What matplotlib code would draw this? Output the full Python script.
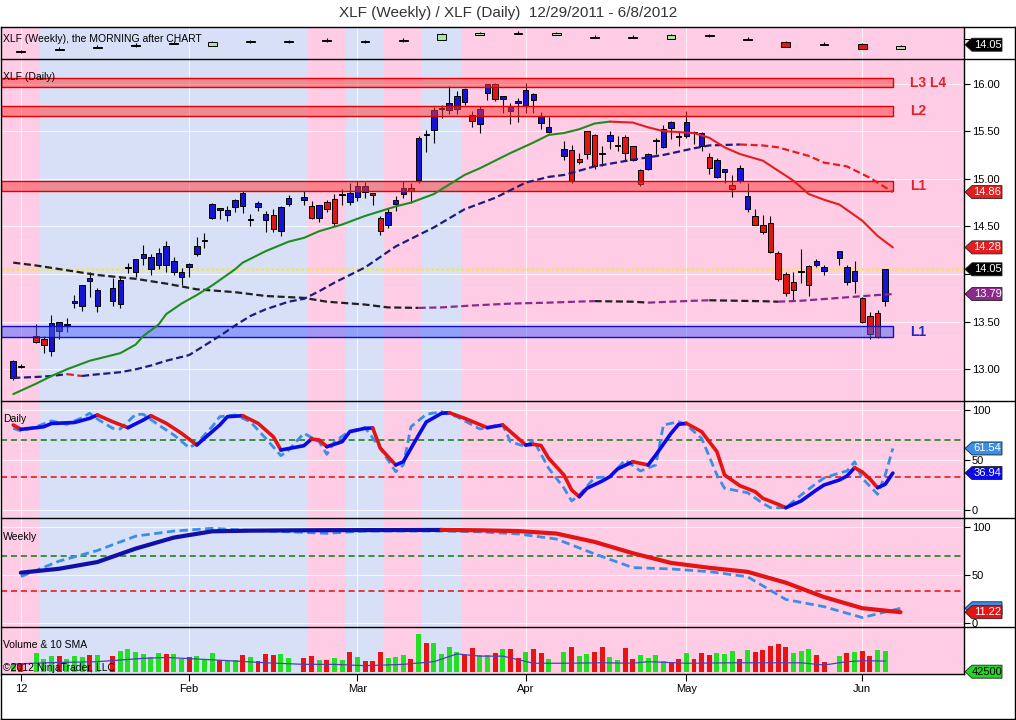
import numpy as np
import pandas as pd
import matplotlib
matplotlib.use("Agg")
import matplotlib.pyplot as plt
from matplotlib.lines import Line2D
from matplotlib.patches import Polygon, Rectangle

plt.rcParams['font.family'] = ['Liberation Sans', 'DejaVu Sans']

# ------------------------------------------------------------------ data
title = "XLF (Weekly) / XLF (Daily)  12/29/2011 - 6/8/2012"
range_start, range_end = "2011-12-29", "2012-06-08"
last_bar = "2012-06-06"
holidays = ["2012-01-02", "2012-01-16", "2012-02-20", "2012-04-06", "2012-05-28"]

opens = [12.91, 13.04, 13.35, 13.32, 13.19, 13.40, 13.47, 13.70, 13.67, 13.93, 13.67,
         13.72, 13.69, 14.06, 14.02, 14.17, 14.05, 14.10, 14.09, 14.02, 13.97, 14.07, 14.21,
         14.35, 14.59, 14.67, 14.62, 14.70, 14.71, 14.57, 14.70, 14.57, 14.62, 14.45, 14.74,
         14.78, 14.71, 14.59, 14.76, 14.79, 14.83, 14.76, 14.81, 14.86, 14.85, 14.59, 14.52,
         14.74, 14.84, 14.90, 14.99, 15.46, 15.51, 15.73, 15.72, 15.73, 15.81, 15.67, 15.58,
         15.90, 15.99, 15.84, 15.71, 15.80, 15.76, 15.83, 15.59, 15.49,
         15.24, 15.30, 15.21, 15.50, 15.46, 15.26, 15.40, 15.34, 15.44, 15.34, 15.09, 15.10,
         15.40, 15.33, 15.53, 15.44, 15.45, 15.48, 15.34, 15.23, 15.02, 15.07, 14.93, 14.98,
         14.68, 14.61, 14.52, 14.54, 14.22, 14.00, 13.92, 14.02, 14.08, 14.09, 14.03,
         14.17, 13.92, 13.93, 13.75, 13.56, 13.59, 13.72]
highs = [13.10, 13.06, 13.48, 13.35, 13.57, 13.50, 13.54, 13.78, 13.88, 14.02, 13.85,
         13.96, 13.98, 14.12, 14.16, 14.30, 14.21, 14.27, 14.35, 14.18, 14.06, 14.12, 14.39,
         14.43, 14.75, 14.69, 14.71, 14.79, 14.87, 14.63, 14.77, 14.66, 14.68, 14.71, 14.83,
         14.87, 14.77, 14.73, 14.78, 14.84, 14.89, 14.96, 14.98, 14.97, 14.85, 14.61, 14.69,
         14.82, 14.98, 14.96, 15.45, 15.51, 15.75, 15.77, 15.97, 15.92, 15.95, 15.71, 15.76,
         16.00, 16.01, 15.87, 15.80, 15.85, 16.01, 15.90, 15.70, 15.65,
         15.40, 15.35, 15.27, 15.50, 15.47, 15.34, 15.50, 15.45, 15.46, 15.34, 15.10, 15.27,
         15.43, 15.56, 15.61, 15.50, 15.71, 15.50, 15.49, 15.27, 15.22, 15.10, 15.04, 15.14,
         14.96, 14.68, 14.62, 14.61, 14.24, 14.02, 14.02, 14.26, 14.10, 14.16, 14.09,
         14.24, 14.09, 14.14, 13.76, 13.60, 13.62, 14.05]
lows = [12.89, 13.01, 13.28, 13.17, 13.14, 13.32, 13.39, 13.64, 13.61, 13.76, 13.60,
        13.67, 13.64, 14.01, 13.97, 14.10, 13.99, 14.05, 14.02, 13.99, 13.88, 13.97, 14.19,
        14.27, 14.58, 14.58, 14.56, 14.65, 14.64, 14.50, 14.66, 14.44, 14.44, 14.40, 14.71,
        14.72, 14.58, 14.55, 14.65, 14.50, 14.72, 14.72, 14.77, 14.80, 14.73, 14.41, 14.48,
        14.66, 14.80, 14.75, 14.96, 15.28, 15.38, 15.64, 15.68, 15.68, 15.77, 15.54, 15.48,
        15.83, 15.82, 15.69, 15.57, 15.60, 15.69, 15.69, 15.52, 15.48,
        15.20, 14.96, 15.15, 15.21, 15.10, 15.13, 15.31, 15.29, 15.19, 15.19, 14.92, 15.09,
        15.26, 15.32, 15.42, 15.34, 15.43, 15.36, 15.29, 15.05, 15.01, 14.96, 14.81, 14.96,
        14.65, 14.51, 14.42, 14.22, 13.93, 13.77, 13.72, 13.91, 13.77, 14.07, 13.99,
        14.10, 13.89, 13.80, 13.49, 13.32, 13.33, 13.67]
closes = [13.09, 13.02, 13.29, 13.26, 13.49, 13.50, 13.48, 13.72, 13.88, 13.96, 13.83,
          13.85, 13.94, 14.07, 14.16, 14.21, 14.18, 14.22, 14.29, 14.14, 14.02, 14.11, 14.29,
          14.36, 14.74, 14.69, 14.67, 14.78, 14.85, 14.58, 14.75, 14.63, 14.47, 14.70, 14.80,
          14.81, 14.59, 14.73, 14.68, 14.54, 14.84, 14.85, 14.92, 14.92, 14.83, 14.45, 14.65,
          14.78, 14.90, 14.87, 15.43, 15.47, 15.72, 15.74, 15.80, 15.87, 15.94, 15.61, 15.73,
          15.99, 15.84, 15.87, 15.76, 15.82, 15.93, 15.89, 15.66, 15.54,
          15.31, 14.98, 15.18, 15.26, 15.13, 15.27, 15.46, 15.35, 15.27, 15.20, 14.94, 15.26,
          15.41, 15.52, 15.60, 15.45, 15.60, 15.49, 15.48, 15.11, 15.20, 15.10, 14.89, 15.11,
          14.82, 14.52, 14.44, 14.23, 13.95, 13.80, 13.83, 14.03, 13.89, 14.14, 14.07,
          14.24, 14.07, 14.03, 13.50, 13.37, 13.34, 14.05]
volume_m = [40, 38, 82, 57, 72, 72, 57, 72, 68, 76, 76,
            72, 94, 102, 90, 81, 64, 86, 81, 81, 57, 64, 70,
            57, 86, 52, 46, 52, 76, 68, 50, 81, 76, 81, 62,
            62, 72, 52, 52, 62, 52, 90, 68, 50, 50, 90, 62,
            68, 76, 57, 170, 128, 128, 81, 112, 90, 76, 108, 76,
            76, 86, 100, 100, 63, 88, 102, 84, 57,
            88, 112, 70, 80, 88, 112, 66, 52, 106, 57, 75, 62,
            75, 48, 42, 57, 86, 57, 84, 75, 84, 80, 93, 57,
            98, 88, 98, 116, 124, 112, 84, 93, 102, 75, 44,
            70, 84, 88, 93, 70, 98, 93]
volume_up = [1, 0, 1, 1, 1, 0, 1, 1, 1, 0, 1,
             0, 1, 1, 1, 1, 1, 1, 0, 1, 1, 0, 1,
             1, 1, 0, 1, 1, 0, 1, 0, 0, 0, 1, 1,
             0, 0, 1, 0, 1, 1, 0, 1, 0, 0, 0, 1,
             1, 1, 0, 1, 0, 1, 1, 1, 1, 0, 0, 1,
             1, 0, 1, 0, 0, 1, 0, 0, 1,
             1, 0, 1, 1, 0, 0, 1, 1, 0, 0, 1, 1,
             1, 1, 0, 0, 1, 0, 0, 0, 1, 1, 1, 0,
             1, 0, 0, 0, 0, 0, 1, 1, 1, 0, 0,
             1, 0, 1, 0, 0, 1, 1]

# 10-period volume SMA as drawn (bar offset from 12/29/2011, value in M)
vol_sma_day = [0, 4, 11, 17, 20, 24, 29, 33, 38, 42, 46, 51, 55, 58, 61, 64, 68, 72, 77, 81,
               83, 88, 94, 103, 106, 109, 111, 114]
vol_sma_val = [34, 40, 45, 60, 64, 57, 48, 40, 33, 33, 27, 33, 45, 80, 70, 70, 38, 38, 40, 38,
               45, 38, 40, 40, 30, 45, 49, 48]

# moving averages on the daily chart (bar offset, value)
ma_fast_day = [0, 3, 5, 7, 10, 11, 14, 16, 17, 19, 20, 22, 24, 26, 29, 30, 33, 36, 38, 40, 43,
               46, 50, 52, 55, 57, 59, 61, 63, 65, 68, 70, 72, 74, 76, 78, 81, 83, 85, 89, 91,
               93, 95, 98, 102, 104, 106, 108, 111, 113, 115]
ma_fast_val = [12.74, 12.85, 12.93, 13.00, 13.09, 13.11, 13.17, 13.26, 13.35, 13.47, 13.58,
               13.69, 13.78, 13.88, 14.05, 14.12, 14.24, 14.34, 14.38, 14.45, 14.52, 14.61,
               14.71, 14.75, 14.84, 14.94, 15.04, 15.11, 15.19, 15.27, 15.38, 15.46, 15.48,
               15.52, 15.58, 15.60, 15.59, 15.54, 15.50, 15.48, 15.43, 15.33, 15.26, 15.19,
               14.98, 14.84, 14.78, 14.73, 14.56, 14.40, 14.28]
ma_mid_day = [0, 3, 5, 7, 9, 10, 14, 16, 18, 20, 23, 25, 27, 29, 31, 33, 36, 38, 40, 42, 46,
              50, 55, 59, 63, 65, 67, 70, 72, 76, 81, 85, 89, 91, 95, 98, 100, 104, 106, 109,
              112, 115]
ma_mid_val = [12.91, 12.92, 12.93, 12.95, 12.93, 12.94, 12.97, 13.00, 13.04, 13.09, 13.15,
              13.25, 13.35, 13.46, 13.56, 13.63, 13.71, 13.74, 13.82, 13.91, 14.07, 14.29,
              14.49, 14.68, 14.80, 14.88, 14.96, 15.02, 15.04, 15.13, 15.20, 15.25, 15.32,
              15.35, 15.36, 15.35, 15.33, 15.24, 15.17, 15.13, 15.01, 14.86]
ma_slow_day = [0, 3, 7, 11, 16, 20, 24, 29, 33, 38, 41, 46, 49, 53, 56, 60, 65, 70, 75, 76,
               81, 83, 89, 91, 98, 100, 103, 108, 113, 115]
ma_slow_val = [14.12, 14.09, 14.04, 13.99, 13.95, 13.90, 13.84, 13.81, 13.77, 13.75, 13.71,
               13.68, 13.65, 13.645, 13.65, 13.67, 13.69, 13.70, 13.714, 13.716, 13.71, 13.70,
               13.72, 13.725, 13.715, 13.71, 13.72, 13.75, 13.78, 13.79]

# support / resistance zones
zone_low = [15.96, 15.66, 14.87, 13.34]
zone_high = [16.06, 15.76, 14.98, 13.45]
zone_label = ["L3 L4", "L2", "L1", "L1"]
zone_kind = ["res", "res", "res", "sup"]

# weekly-trend background regimes
regime_start = ["2011-12-29", "2012-01-04", "2012-02-22", "2012-02-29", "2012-03-07",
                "2012-03-14", "2012-03-21"]
regime_up = [0, 1, 0, 1, 0, 1, 0]

# daily oscillator
dosc_day = [0, 1, 3, 4, 5, 8, 10, 11, 13, 15, 17, 18, 20, 22, 24, 25, 27, 28, 30, 32, 34, 35,
            38, 39, 40, 41, 43, 44, 46, 47, 48, 50, 51, 53, 54, 56, 57, 59, 62, 64, 67, 68,
            69, 70, 72, 73, 74, 75, 77, 78, 79, 81, 83, 84, 86, 87, 88, 90, 92, 93, 95, 97,
            98, 100, 101, 103, 105, 106, 108, 109, 110, 111, 112, 113, 114, 115]
dosc_val = [85, 80.7, 82.3, 83.3, 86.5, 87.5, 91.7, 95, 88.3, 82.3, 90, 94.3, 86.7, 76.7, 65,
            71.7, 85, 93.3, 94.3, 86.7, 73.3, 60, 64.3, 71, 70, 63.3, 68.3, 78.3, 81.7, 82,
            61.7, 45, 48.3, 75, 88, 96.7, 97.3, 91.7, 82.3, 85, 65, 65.7, 64.5, 51.7, 35, 20,
            13.3, 21.7, 29, 33.3, 41, 48.3, 45, 55, 76.7, 85.7, 86.7, 78.3, 58.3, 35, 24.3,
            18.3, 11.7, 5.7, 2.3, 9, 20, 25, 30, 34, 42.3, 38, 31, 22.3, 25.7, 36.94]
dsig_day = [0, 1, 3, 5, 7, 9, 10, 11, 13, 14, 16, 17, 19, 21, 23, 24, 26, 27, 29, 31, 33, 35,
            36, 38, 40, 41, 42, 44, 46, 48, 50, 51, 52, 54, 56, 58, 61, 63, 64, 65, 67, 68,
            70, 72, 73, 74, 76, 78, 80, 82, 84, 85, 87, 88, 90, 92, 93, 96, 98, 99, 101, 103,
            105, 106, 108, 109, 110, 111, 113, 114, 115]
dsig_val = [81.7, 79, 83.3, 89, 85.7, 92.3, 96.7, 91, 81.7, 81, 95.7, 95.7, 85, 75, 62.3,
            66.7, 83.3, 93.3, 95, 88.3, 71.7, 54.3, 60, 76.7, 68.3, 55.7, 68.3, 79, 82.3,
            61.7, 38.3, 45, 83.3, 95.7, 98.3, 93.3, 81, 84.3, 85, 68.3, 63.3, 70, 41.7, 22,
            9, 15, 32.3, 33.3, 50, 39, 45, 85, 88.3, 85, 71.7, 35, 21.7, 17.3, 6.7, 2.3, 2.3,
            15, 26.7, 32, 37, 39, 48.3, 31.7, 15.7, 35, 61.54]
osc_levels = [70, 33.3]

# weekly oscillator (one value per week, on Fridays)
wosc_val = [52.4, 56.5, 63.5, 77.5, 89, 95.5, 96.2, 96.5, 96.7, 96.8, 96.9, 97.0, 96.6, 95.8,
            93.2, 84.5, 72.7, 62.6, 57.5, 53.3, 42, 27, 15.4, 11.22]
wsig_val = [48.3, 64.5, 75.5, 90.5, 95.8, 98.6, 96.5, 95.0, 93.4, 95.8, 95.8, 95.8, 95.0,
            92.8, 87.5, 72.0, 57.7, 56.3, 53.5, 48.2, 24.5, 17, 5.6, 15.3]

# weekly candles shown in the top strip
wk_open = [12.80, 13.20, 13.50, 13.78, 14.18, 13.84, 14.45, 14.45, 14.61, 14.45, 14.61, 14.83,
           15.72, 15.83, 15.72, 15.17, 15.17, 14.99, 15.64, 14.89, 14.55, 14.07, 14.12, 13.39]
wk_close = [12.98, 13.38, 13.74, 14.00, 14.36, 14.55, 14.63, 14.63, 14.79, 14.63, 14.79, 15.77,
            15.90, 16.01, 15.90, 15.35, 15.35, 15.65, 15.46, 15.07, 13.72, 14.25, 13.34, 13.84]
wk_high = [13.25, 13.65, 14.05, 14.30, 14.60, 14.70, 14.90, 14.90, 15.10, 14.90, 15.10, 15.95,
           16.20, 16.30, 16.20, 15.60, 15.60, 15.85, 15.80, 15.30, 14.70, 14.45, 14.30, 13.95]
wk_low = [12.75, 13.15, 13.45, 13.72, 14.12, 13.78, 14.40, 14.40, 14.50, 14.40, 14.50, 14.78,
          15.65, 15.78, 15.65, 15.10, 15.10, 14.93, 15.40, 14.80, 13.65, 14.00, 13.28, 13.34]

tick_dates = ["2011-12-30", "2012-01-31", "2012-03-01", "2012-04-02", "2012-05-01", "2012-06-01"]
tick_labels = ["12", "Feb", "Mar", "Apr", "May", "Jun"]
volume_tag = "42500"

# ------------------------------------------------------------------ positions
slots = pd.bdate_range(range_start, range_end)
slot_of = {d: i for i, d in enumerate(slots)}
trade_days = [d for d in pd.bdate_range(range_start, last_bar) if d not in pd.to_datetime(holidays)]
xpos = np.array([slot_of[d] for d in trade_days], float)
fridays = np.array([i for i, d in enumerate(slots) if d.weekday() == 4], float)
tick_pos = [slot_of[pd.Timestamp(d)] for d in tick_dates]

O, Hh, L, C = map(np.array, (opens, highs, lows, closes))

# ------------------------------------------------------------------ figure / layout
W, H = 1016, 720
fig = plt.figure(figsize=(W / 100, H / 100), dpi=100, facecolor="white")
PX_L, PX_R, PX_FR = 1, 964, 1015
YS = [27, 59.3, 400.5, 518, 627, 674]
XL = (-1.6, 124.3)

PINK = "#FFCCE6"
BLUEBG = "#D7E0F6"


def add_panel(y0, y1):
    ax = fig.add_axes([PX_L / W, 1 - y1 / H, (PX_R - PX_L) / W, (y1 - y0) / H])
    ax.set_xlim(*XL)
    for s in ax.spines.values():
        s.set_visible(False)
    starts = [slot_of[pd.Timestamp(d)] - 0.5 for d in regime_start]
    starts[0] = XL[0]
    ends = starts[1:] + [XL[1]]
    for a, b, u in zip(starts, ends, regime_up):
        ax.axvspan(a, b, color=BLUEBG if u else PINK, lw=0, zorder=0)
    ax.set_xticks(tick_pos)
    ax.tick_params(axis="x", length=0, labelbottom=False)
    ax.yaxis.tick_right()
    ax.tick_params(axis="y", direction="out", length=4, width=0.8, pad=1.5,
                   labelsize=8, colors="black")
    ax.set_axisbelow(True)
    ax.grid(True, color="white", lw=0.8, alpha=0.75)
    return ax


ax_w = add_panel(YS[0], YS[1])
ax_m = add_panel(YS[1], YS[2])
ax_d = add_panel(YS[2], YS[3])
ax_o = add_panel(YS[3], YS[4])
ax_v = add_panel(YS[4], YS[5])


def slope_line(ax, xs, ys, up_c, dn_c, **kw):
    xs = np.asarray(xs, float)
    ys = np.asarray(ys, float)
    d = np.diff(ys)
    sgn = np.where(d >= 0, 1, -1)
    start = 0
    for i in range(1, len(sgn) + 1):
        if i == len(sgn) or sgn[i] != sgn[start]:
            ax.plot(xs[start:i + 1], ys[start:i + 1],
                    color=up_c if sgn[start] > 0 else dn_c, **kw)
            start = i


# ------------------------------------------------------------------ weekly strip
ax_w.set_ylim(11.65, 16.97)
ax_w.set_yticks([15.0])
ax_w.grid(False, axis="y")
wo, wc, wh, wl = map(np.array, (wk_open, wk_close, wk_high, wk_low))
ax_w.vlines(fridays, wl, wh, color="black", lw=0.8, zorder=3)
ax_w.bar(fridays, np.abs(wc - wo), bottom=np.minimum(wo, wc), width=1.15,
         color=np.where(wc >= wo, "#A6E6A6", "#E01818"), edgecolor="black",
         linewidth=0.7, zorder=3.1)

# ------------------------------------------------------------------ main price panel
ax_m.set_ylim(12.673, 16.254)
ax_m.set_yticks(np.arange(13.0, 16.01, 0.5))
ax_m.axhline(C[-1], color="#F2E35C", lw=1.8, ls=(0, (1, 1)), zorder=1.5)

ax_m.vlines(xpos, L, Hh, color="black", lw=0.8, zorder=3)
ax_m.bar(xpos, np.abs(C - O), bottom=np.minimum(O, C), width=0.72,
         color=np.where(C >= O, "#1414D2", "#E01616"), edgecolor="black",
         linewidth=0.7, zorder=3.1)

zone_end = xpos[-1] + 1
for lo, hi, lab, kind in zip(zone_low, zone_high, zone_label, zone_kind):
    if kind == "res":
        fc, ec, tc = (1.0, 0.22, 0.22, 0.5), "#E00000", "#E8202A"
    else:
        fc, ec, tc = (0.30, 0.38, 0.98, 0.5), "#1010C8", "#2626C8"
    ax_m.add_patch(Rectangle((XL[0], lo), zone_end - XL[0], hi - lo, facecolor=fc,
                             edgecolor=ec, lw=1.0, zorder=4))
    ax_m.text(zone_end + 2.2, (lo + hi) / 2, lab, color=tc, fontsize=10, fontweight="bold",
              family=["Liberation Sans Narrow", "Liberation Sans", "DejaVu Sans"],
              ha="left", va="center", zorder=6)

slope_line(ax_m, ma_slow_day, ma_slow_val, "#8C2A8C", "#202020", lw=1.6,
           ls=(0, (3.2, 1.6)), zorder=5)
slope_line(ax_m, ma_mid_day, ma_mid_val, "#1C1C7A", "#E41E1E", lw=1.6,
           ls=(0, (3.2, 1.6)), zorder=5)
slope_line(ax_m, ma_fast_day, ma_fast_val, "#1E8C1E", "#E41E1E", lw=1.5,
           solid_capstyle="round", zorder=5)

# ------------------------------------------------------------------ daily oscillator
ax_d.set_ylim(-8, 109.5)
ax_d.set_yticks([0, 50, 100])
for lv, col in zip(osc_levels, ["#127A12", "#E01010"]):
    ax_d.axhline(lv, color=col, lw=1.1, ls=(0, (4, 2.5)), zorder=2)
ax_d.plot(dsig_day, dsig_val, color="#3A8EE6", lw=2.0, ls=(0, (3, 1.6)), zorder=3)
slope_line(ax_d, dosc_day, dosc_val, "#0A0AE6", "#E41414", lw=2.6,
           solid_capstyle="round", solid_joinstyle="round", zorder=4)

# ------------------------------------------------------------------ weekly oscillator
ax_o.set_ylim(-4.2, 109.4)
ax_o.set_yticks([0, 50, 100])
for lv, col in zip(osc_levels, ["#127A12", "#E01010"]):
    ax_o.axhline(lv, color=col, lw=1.1, ls=(0, (4, 2.5)), zorder=2)
ax_o.plot(fridays, wsig_val, color="#3A8EE6", lw=2.0, ls=(0, (3, 1.6)), zorder=3)
slope_line(ax_o, fridays, wosc_val, "#1010A8", "#E41414", lw=3.0,
           solid_capstyle="round", solid_joinstyle="round", zorder=4)

# ------------------------------------------------------------------ volume
ax_v.set_ylim(-10.4, 201)
ax_v.set_yticks([])
ax_v.grid(False, axis="y")
ax_v.bar(xpos, volume_m, width=0.65,
         color=np.where(np.array(volume_up) == 1, "#22E022", "#E81414"), lw=0, zorder=3)
ax_v.plot(vol_sma_day, vol_sma_val, color="#4B3FC0", lw=0.9, zorder=4)
ax_v.set_xticks(tick_pos)
ax_v.set_xticklabels(tick_labels)
ax_v.tick_params(axis="x", direction="out", length=5, width=0.8, labelbottom=True,
                 labelsize=8, pad=2, colors="black")


# ------------------------------------------------------------------ frame lines
def fig_line(x0, y0, x1, y1, lw=1.0, color="black"):
    fig.add_artist(Line2D([x0 / W, x1 / W], [1 - y0 / H, 1 - y1 / H],
                          transform=fig.transFigure, color=color, lw=lw, zorder=5))


fig_line(PX_L, 27, PX_FR, 27)
fig_line(PX_L, 719, PX_FR, 719)
fig_line(PX_L, 27, PX_L, 719)
fig_line(PX_FR, 27, PX_FR, 719)
for yy in YS[1:5]:
    fig_line(PX_L, yy, PX_FR, yy)
fig_line(PX_R, 27, PX_R, YS[5])
fig_line(PX_L, YS[5], PX_R, YS[5])

# ------------------------------------------------------------------ value tags
tag_ys = {}


def tag(ax, value, text, fc, tc="white"):
    y = ax.transData.transform((0, value))[1]
    tag_ys.setdefault(ax, []).append(y)
    h = 6.5
    pts = [(965, y), (972, y + h), (1002, y + h), (1002, y - h), (972, y - h)]
    fig.add_artist(Polygon([(px / W, py / H) for px, py in pts], closed=True,
                           transform=fig.transFigure, facecolor=fc, edgecolor="#222222",
                           lw=0.6, zorder=10))
    if text:
        fig.text(987.5 / W, y / H, text, color=tc, fontsize=8, ha="center", va="center",
                 zorder=11)


tag(ax_w, C[-1], f"{C[-1]:.2f}", "black")
tag(ax_m, ma_mid_val[-1], f"{ma_mid_val[-1]:.2f}", "#E41E1E")
tag(ax_m, ma_fast_val[-1], f"{ma_fast_val[-1]:.2f}", "#E41E1E")
tag(ax_m, C[-1], f"{C[-1]:.2f}", "black")
tag(ax_m, ma_slow_val[-1], f"{ma_slow_val[-1]:.2f}", "#8C2A8C")
tag(ax_d, dsig_val[-1], f"{dsig_val[-1]:.2f}", "#3A8EE6")
tag(ax_d, dosc_val[-1], f"{dosc_val[-1]:.2f}", "#0A0AE6")
tag(ax_o, wsig_val[-1], None, "#3A8EE6")          # hidden behind the red tag
tag(ax_o, wosc_val[-1], f"{wosc_val[-1]:.2f}", "#E41414")
tag(ax_v, 0, volume_tag, "#22D822", tc="black")

# price-scale labels that sit underneath a value tag are covered in the chart
for ax, fmt in [(ax_w, "{:.2f}"), (ax_m, "{:.2f}"), (ax_d, "{:g}"), (ax_o, "{:g}")]:
    ticks = ax.get_yticks()
    labels = []
    for t in ticks:
        ty = ax.transData.transform((0, t))[1]
        covered = any(abs(ty - yy) < 10 for yy in tag_ys.get(ax, []))
        labels.append("" if covered else fmt.format(t))
    ax.set_yticks(ticks)
    ax.set_yticklabels(labels)

# ------------------------------------------------------------------ texts
fig.text(0.5, 1 - 13 / H, title, ha="center", va="center", fontsize=11, color="#333333")
fig.text(3 / W, 1 - 39 / H, "XLF (Weekly), the MORNING after CHART", fontsize=7.5,
         va="center", zorder=8)
fig.text(3 / W, 1 - 77 / H, "XLF (Daily)", fontsize=7.5, va="center", zorder=8)
fig.text(3 / W, 1 - 419 / H, "Daily", fontsize=7.5, va="center", zorder=8)
fig.text(3 / W, 1 - 536.5 / H, "Weekly", fontsize=7.5, va="center", zorder=8)
fig.text(3 / W, 1 - 645 / H, "Volume & 10 SMA", fontsize=7.5, va="center", zorder=8)
fig.text(3 / W, 1 - 668 / H, "\u00a92012 NinjaTrader, LLC", fontsize=7.5, va="center",
         zorder=8)

fig.savefig("out.png", dpi=100, facecolor="white")
